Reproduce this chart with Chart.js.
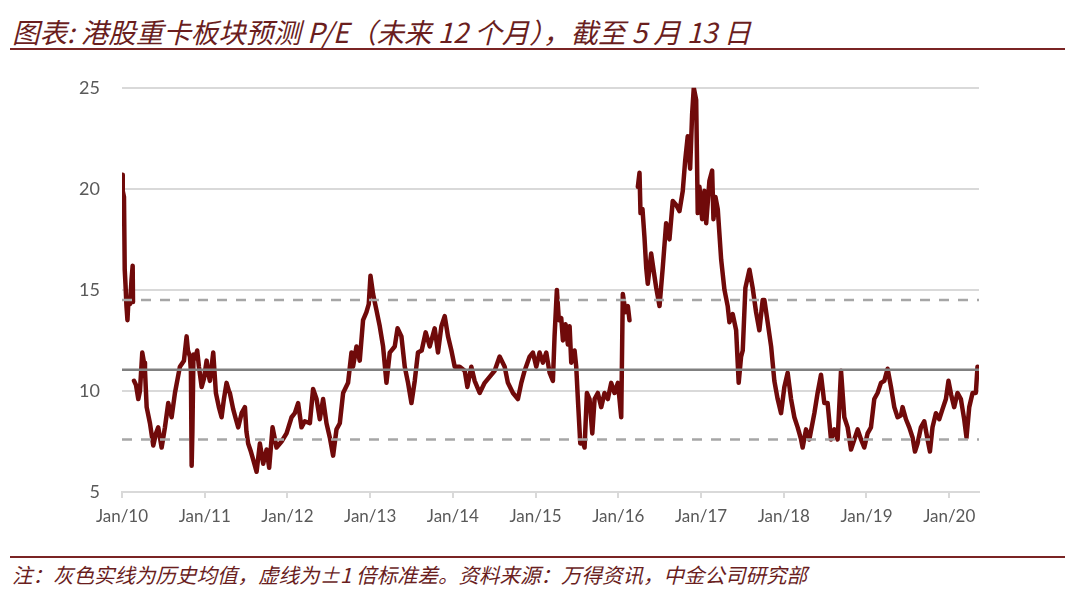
<!DOCTYPE html>
<html>
<head>
<meta charset="utf-8">
<script src="https://cdn.jsdelivr.net/npm/chart.js@4.4.1/dist/chart.umd.min.js"></script>
<style>
  body { margin: 0; background: #fff; width: 1080px; height: 591px; position: relative; overflow: hidden;
         font-family: "Noto Sans CJK SC", "Noto Sans", sans-serif; }
  #title { position: absolute; left: 12px; top: 11px; font-size: 27.5px; font-style: italic; color: #6a1e1e; white-space: nowrap; }
  .rule { position: absolute; left: 10px; width: 1055px; height: 2px; background: #7a2424; }
  #note { position: absolute; left: 12px; top: 559px; font-size: 20.5px; font-style: italic; color: #6a1e1e; white-space: nowrap; }
  #box { position: absolute; left: 0; top: 55px; width: 1000px; height: 477px; }
</style>
</head>
<body>
<div id="title">图表: 港股重卡板块预测 P/E（未来 12 个月），截至 5 月 13 日</div>
<div class="rule" style="top:48px"></div>
<div id="box"><canvas id="peChart"></canvas></div>
<div class="rule" style="top:556px"></div>
<div id="note">注：灰色实线为历史均值，虚线为±1 倍标准差。资料来源：万得资讯，中金公司研究部</div>

<script>
// time in decimal years, null = no data
const years = [
  2010.000, 2010.006, 2010.012, 2010.024, 2010.033, 2010.042, 2010.054, 2010.066, 2010.079, 2010.097,
  2010.115, 2010.129, 2010.133, 2010.139,
  2010.145, 2010.169, 2010.197, 2010.217, 2010.245, 2010.266, 2010.278, 2010.298, 2010.338, 2010.378,
  2010.411, 2010.438, 2010.479, 2010.519, 2010.559, 2010.600, 2010.640, 2010.700, 2010.749, 2010.781,
  2010.797, 2010.821, 2010.833, 2010.842, 2010.851, 2010.864, 2010.882, 2010.909, 2010.930, 2010.963,
  2010.990, 2011.023, 2011.045, 2011.063, 2011.103, 2011.135, 2011.171, 2011.204, 2011.232, 2011.264,
  2011.292, 2011.304, 2011.344, 2011.377, 2011.405, 2011.446, 2011.486, 2011.504, 2011.525, 2011.558,
  2011.586, 2011.627, 2011.667, 2011.707, 2011.748, 2011.779, 2011.820, 2011.868, 2011.929, 2011.989,
  2012.050, 2012.089, 2012.129, 2012.170, 2012.210, 2012.271, 2012.310, 2012.352, 2012.391, 2012.431,
  2012.472, 2012.512, 2012.552, 2012.593, 2012.633, 2012.673, 2012.733, 2012.774, 2012.793, 2012.835,
  2012.874, 2012.914, 2012.955, 2012.983, 2013.004, 2013.035, 2013.076, 2013.116, 2013.156, 2013.197,
  2013.237, 2013.297, 2013.331, 2013.378, 2013.418, 2013.458, 2013.499, 2013.539, 2013.578, 2013.623,
  2013.671, 2013.720, 2013.780, 2013.820, 2013.861, 2013.901, 2013.941, 2013.982, 2014.022, 2014.082,
  2014.143, 2014.175, 2014.223, 2014.263, 2014.324, 2014.384, 2014.444, 2014.505, 2014.565, 2014.626,
  2014.665, 2014.726, 2014.786, 2014.827, 2014.867, 2014.928, 2014.967, 2015.008, 2015.048, 2015.088,
  2015.129, 2015.169, 2015.209, 2015.229, 2015.257, 2015.281, 2015.310, 2015.330, 2015.362, 2015.390,
  2015.411, 2015.431, 2015.471, 2015.491, 2015.511, 2015.540, 2015.568, 2015.592, 2015.620, 2015.652,
  2015.685, 2015.713, 2015.752, 2015.793, 2015.833, 2015.873, 2015.914, 2015.954, 2015.994, 2016.014,
  2016.035, 2016.054, 2016.087, 2016.115, 2016.135, 2016.185,
  2016.236, 2016.256, 2016.268, 2016.292, 2016.316, 2016.337, 2016.356, 2016.397, 2016.425, 2016.458,
  2016.498, 2016.537, 2016.578, 2016.618, 2016.658, 2016.699, 2016.739, 2016.779, 2016.808, 2016.839,
  2016.868, 2016.892, 2016.912, 2016.941, 2016.960, 2016.981, 2017.013, 2017.041, 2017.062, 2017.101,
  2017.134, 2017.150, 2017.174, 2017.202, 2017.243, 2017.283, 2017.322, 2017.343, 2017.383, 2017.424,
  2017.455, 2017.484, 2017.504, 2017.536, 2017.585, 2017.624, 2017.665, 2017.705, 2017.745, 2017.766,
  2017.805, 2017.847, 2017.886, 2017.926, 2017.967, 2018.007, 2018.047, 2018.088, 2018.128, 2018.168,
  2018.209, 2018.228, 2018.269, 2018.309, 2018.370, 2018.409, 2018.450, 2018.490, 2018.530, 2018.571,
  2018.611, 2018.651, 2018.692, 2018.732, 2018.772, 2018.813, 2018.853, 2018.893, 2018.934, 2018.973,
  2019.013, 2019.054, 2019.094, 2019.134, 2019.175, 2019.215, 2019.255, 2019.296, 2019.336, 2019.376,
  2019.417, 2019.436, 2019.477, 2019.517, 2019.557, 2019.586, 2019.617, 2019.658, 2019.698, 2019.738,
  2019.767, 2019.798, 2019.839, 2019.879, 2019.919, 2019.960, 2019.991, 2020.024, 2020.060, 2020.100,
  2020.141, 2020.181, 2020.209, 2020.242, 2020.282, 2020.322, 2020.342
];

const pe = [
  18.8, 20.7, 19.9, 19.6, 16.0, 15.3, 14.2, 13.5, 14.6, 14.3,
  15.5, 16.2, 14.4, null,
  10.5, 10.3, 9.6, 10.0, 11.9, 11.4, 11.0, 9.2, 8.4, 7.3,
  7.9, 8.2, 7.2, 8.2, 9.4, 8.7, 9.9, 11.2, 11.5, 12.7,
  12.0, 11.7, 11.0, 6.3, 8.0, 11.8, 11.6, 12.0, 11.2, 10.2,
  10.6, 11.5, 10.8, 10.5, 11.9, 9.9, 9.2, 8.7, 9.6, 10.4,
  10.0, 9.9, 9.1, 8.6, 8.2, 8.9, 9.2, 8.0, 7.4, 7.0,
  6.6, 6.0, 7.4, 6.4, 7.1, 6.2, 8.2, 7.2, 7.5, 7.9,
  8.7, 8.9, 9.4, 8.2, 8.5, 8.4, 10.1, 9.6, 8.6, 9.6,
  8.4, 7.7, 6.8, 8.1, 8.4, 9.9, 10.4, 11.9, 11.2, 12.2,
  11.5, 13.5, 13.9, 14.3, 15.7, 14.8, 14.0, 13.2, 12.2, 10.4,
  11.9, 12.2, 13.1, 12.7, 11.2, 10.4, 9.4, 10.5, 11.9, 12.0,
  12.9, 12.2, 13.1, 11.9, 13.2, 13.7, 12.7, 12.0, 11.2, 11.2,
  11.0, 10.2, 11.2, 10.5, 9.9, 10.4, 10.7, 11.0, 11.7, 11.2,
  10.4, 9.9, 9.6, 10.4, 11.0, 11.7, 11.9, 11.2, 11.9, 11.4,
  11.9, 10.9, 10.5, 12.7, 15.0, 13.5, 13.6, 12.5, 13.3, 12.3,
  13.2, 11.4, 12.0, 11.2, 9.6, 7.4, 7.5, 7.2, 9.9, 9.6,
  7.9, 9.6, 9.9, 9.2, 9.9, 9.6, 10.4, 9.9, 10.4, 9.6,
  8.7, 14.8, 13.9, 14.2, 13.5, null,
  20.1, 20.8, 18.8, 19.0, 17.6, 16.1, 15.3, 16.8, 16.0, 15.1,
  14.2, 16.1, 18.3, 17.5, 19.4, 19.2, 18.9, 19.9, 21.4, 22.6,
  21.0, 23.7, 25.0, 24.4, 18.8, 20.1, 18.5, 19.9, 18.3, 20.4,
  20.9, 18.5, 19.6, 19.0, 16.5, 15.0, 14.2, 13.4, 13.8, 13.0,
  10.4, 11.7, 12.0, 15.1, 16.0, 15.1, 13.9, 13.0, 14.5, 14.5,
  13.4, 12.2, 10.5, 9.6, 8.9, 10.2, 10.9, 9.6, 8.7, 8.2,
  7.6, 7.2, 8.1, 7.6, 8.9, 9.9, 10.8, 9.4, 9.4, 7.6,
  8.1, 7.6, 11.0, 8.7, 8.2, 7.1, 7.6, 8.1, 7.6, 7.2,
  7.9, 8.2, 9.6, 9.9, 10.4, 10.5, 11.1, 10.2, 9.2, 8.7,
  8.8, 9.2, 8.6, 8.2, 7.7, 7.0, 7.4, 8.2, 8.5, 7.6,
  7.0, 8.2, 8.9, 8.6, 9.1, 9.6, 10.5, 9.8, 9.2, 9.9,
  9.6, 8.6, 7.7, 9.2, 9.9, 9.9, 11.2
];

const xTickLabels = ['Jan/10', 'Jan/11', 'Jan/12', 'Jan/13', 'Jan/14', 'Jan/15',
                     'Jan/16', 'Jan/17', 'Jan/18', 'Jan/19', 'Jan/20'];
const yTicks = [5, 10, 15, 20, 25];
const histMean = 11.05;
const histUpper = 14.5;   // +1 std
const histLower = 7.6;    // -1 std
const xStart = 2010, xEnd = 2020.36;

const seriesPoints = years.map((t, i) => ({ x: t, y: pe[i] }));
const flat = v => [{ x: xStart, y: v }, { x: xEnd, y: v }];

const ctx = document.getElementById('peChart').getContext('2d');
new Chart(ctx, {
  type: 'line',
  data: {
    datasets: [
      { data: flat(histMean), borderColor: '#808080', borderWidth: 2.5, pointRadius: 0 },
      { data: flat(histUpper), borderColor: '#a6a6a6', borderWidth: 2.5, borderDash: [10, 9], pointRadius: 0 },
      { data: flat(histLower), borderColor: '#a6a6a6', borderWidth: 2.5, borderDash: [10, 9], pointRadius: 0 },
      {
        data: seriesPoints,
        borderColor: '#700a0a',
        borderWidth: 4.5,
        pointRadius: 0,
        tension: 0,
        spanGaps: false,
        borderJoinStyle: 'round',
        borderCapStyle: 'round'
      }
    ]
  },
  options: {
    responsive: true,
    maintainAspectRatio: false,
    animation: false,
    layout: { padding: { top: 2, right: 21, left: 0, bottom: 0 } },
    plugins: { legend: { display: false }, tooltip: { enabled: false } },
    scales: {
      x: {
        type: 'linear',
        min: xStart,
        max: xEnd,
        afterBuildTicks: axis => { axis.ticks = xTickLabels.map((_, i) => ({ value: xStart + i })); },
        afterFit: axis => { axis.height = 40; },
        ticks: {
          autoSkip: false,
          maxRotation: 0,
          padding: 8,
          color: '#595959',
          font: { family: 'Lato', size: 17 },
          callback: (v) => xTickLabels[Math.round(v - xStart)]
        },
        grid: { drawOnChartArea: false, drawTicks: true, tickLength: 6, color: '#d9d9d9', lineWidth: 2 },
        border: { color: '#d9d9d9', width: 2 }
      },
      y: {
        min: 5,
        max: 25,
        afterBuildTicks: axis => { axis.ticks = yTicks.map(v => ({ value: v })); },
        afterFit: axis => { axis.width = 122; },
        ticks: {
          padding: 22,
          color: '#595959',
          font: { family: 'Lato', size: 18 }
        },
        grid: { drawTicks: false, color: '#d9d9d9', lineWidth: 2 },
        border: { display: false }
      }
    }
  }
});
</script>
</body>
</html>
